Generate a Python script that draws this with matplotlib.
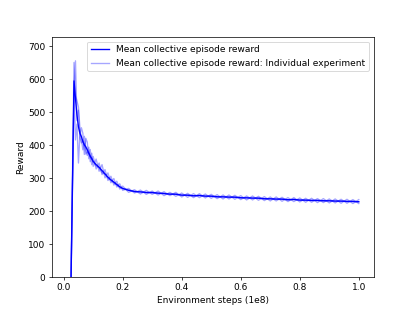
import matplotlib
matplotlib.use('agg')
import matplotlib.pyplot as plt
import numpy as np

# environment steps (1e8)
steps = [0.01, 0.02, 0.035, 0.04, 0.045, 0.05, 0.055, 0.06, 0.065, 0.07,
         0.075, 0.08, 0.085, 0.09, 0.095, 0.1, 0.11, 0.12, 0.13, 0.14,
         0.15, 0.16, 0.17, 0.18, 0.19, 0.2,
         0.22, 0.24, 0.26, 0.28, 0.30, 0.32, 0.34, 0.36, 0.38, 0.40,
         0.42, 0.44, 0.46, 0.48, 0.50, 0.52, 0.54, 0.56, 0.58, 0.60,
         0.62, 0.64, 0.66, 0.68, 0.70, 0.72, 0.74, 0.76, 0.78, 0.80,
         0.82, 0.84, 0.86, 0.88, 0.90, 0.92, 0.94, 0.96, 0.98, 1.00]

# collective episode reward of each run
run_a = [-3050, -320, 650, 550, 533, 515, 452, 417, 385, 426,
         390, 368, 393, 349, 375, 335, 357, 320, 340, 300,
         315, 285, 298, 272, 282, 262,
         268, 254, 263, 250, 260, 248, 258, 246, 256, 242,
         253, 240, 252, 239, 250, 237, 248, 236, 247, 234,
         245, 233, 244, 231, 242, 230, 241, 228, 240, 227,
         238, 226, 237, 225, 236, 224, 235, 223, 234, 222]
run_b = [-2980, -280, 560, 415, 463, 345, 432, 452, 435, 371,
         420, 408, 358, 386, 340, 365, 327, 345, 310, 325,
         292, 305, 278, 290, 266, 275,
         256, 264, 251, 262, 250, 260, 246, 256, 244, 254,
         241, 252, 240, 251, 238, 249, 236, 248, 235, 246,
         233, 245, 232, 243, 230, 242, 229, 240, 228, 239,
         226, 238, 225, 237, 224, 236, 223, 235, 222, 234]
run_c = [-2970, -300, 572, 655, 474, 505, 421, 406, 410, 403,
         372, 379, 374, 363, 359, 350, 336, 331, 316, 311,
         299, 292, 285, 278, 271, 267,
         263, 258, 258, 255, 256, 253, 253, 250, 251, 247,
         248, 245, 247, 244, 245, 242, 243, 241, 242, 239,
         240, 238, 239, 236, 237, 235, 236, 233, 235, 232,
         233, 231, 232, 230, 231, 229, 230, 228, 229, 227]

runs = [run_a, run_b, run_c]
mean_reward = np.mean(np.array(runs), axis=0)

fig, ax = plt.subplots(figsize=(6.4, 4.8))

ax.plot(steps, mean_reward, color='blue', linewidth=1.5, zorder=3,
        label='Mean collective episode reward')
for i, r in enumerate(runs):
    ax.plot(steps, r, color='blue', alpha=0.35, linewidth=1.5,
            label='Mean collective episode reward: Individual experiment' if i == 0 else None)

ax.set_xlim(-0.04, 1.05)
ax.set_ylim(0, 727)
ax.set_xlabel('Environment steps (1e8)')
ax.set_ylabel('Reward')
ax.legend(loc='upper right')

fig.savefig('out.png', dpi=64.85)
